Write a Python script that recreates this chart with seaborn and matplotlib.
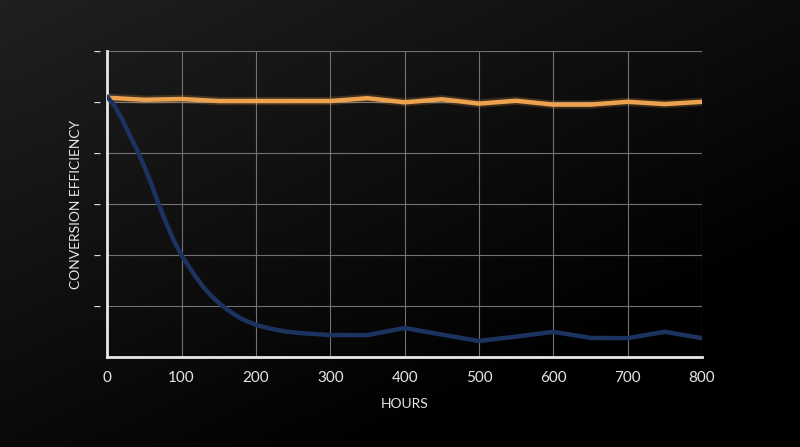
import numpy as np
import pandas as pd
import matplotlib
matplotlib.use("Agg")
import matplotlib.pyplot as plt
import matplotlib.patheffects as pe
from matplotlib.colors import LinearSegmentedColormap
import seaborn as sns

# =========================
# Data
# =========================
hours_stable = [0, 50, 100, 150, 200, 250, 300, 350, 400, 450, 500, 550, 600, 650, 700, 750, 800]
eff_stable = [1.018, 1.010, 1.013, 1.005, 1.005, 1.005, 1.005, 1.016, 1.000, 1.012,
              0.995, 1.006, 0.991, 0.991, 1.002, 0.993, 1.002]

hours_decay = [0, 10, 20, 30, 40, 50, 60, 70, 80, 90, 100, 110, 120, 130, 140, 150,
               160, 170, 180, 190, 200, 220, 240, 260, 280, 300, 350, 400, 450,
               500, 550, 600, 650, 700, 750, 800]
eff_decay = [1.022, 0.985, 0.935, 0.873, 0.815, 0.747, 0.675, 0.595, 0.522, 0.455,
             0.400, 0.355, 0.312, 0.273, 0.241, 0.214, 0.190, 0.170, 0.152, 0.139,
             0.127, 0.112, 0.101, 0.095, 0.091, 0.087, 0.087, 0.115, 0.089,
             0.064, 0.081, 0.100, 0.076, 0.075, 0.100, 0.075]

x_ticks = [0, 100, 200, 300, 400, 500, 600, 700, 800]
y_ticks = [0.2, 0.4, 0.6, 0.8, 1.0, 1.2]

ORANGE = "#EDA24F"
BLUE = "#1C335F"
TEXT = "#E6E6E6"

df = pd.concat([
    pd.DataFrame({"hours": hours_stable, "eff": eff_stable, "series": "stable"}),
    pd.DataFrame({"hours": hours_decay, "eff": eff_decay, "series": "decay"}),
])

sns.set_style("dark")
plt.rcParams["font.family"] = ["Lato", "DejaVu Sans"]

fig = plt.figure(figsize=(8, 4.47), dpi=100)

# background gradient: dark grey top-left to black bottom-right
bg = fig.add_axes([0, 0, 1, 1], zorder=-10)
gx, gy = np.meshgrid(np.linspace(0, 1, 400), np.linspace(0, 1, 224))
grad = 1 - np.clip(0.6 * gx + 0.7 * gy, 0, 1)
cmap = LinearSegmentedColormap.from_list("bg", ["#000000", "#202020"])
bg.imshow(grad, cmap=cmap, aspect="auto", extent=[0, 1, 0, 1], vmin=0, vmax=1)
bg.axis("off")

ax = fig.add_axes([0.134, 0.2007, 0.7435, 0.6845])
ax.set_facecolor("none")

sns.lineplot(data=df, x="hours", y="eff", hue="series",
             palette={"stable": ORANGE, "decay": BLUE},
             linewidth=3.2, legend=False, ax=ax, zorder=3)

# soft glow on the orange line
for line in ax.get_lines():
    if line.get_color() == ORANGE:
        line.set_path_effects([pe.Stroke(linewidth=6, foreground=ORANGE, alpha=0.2), pe.Normal()])

ax.set_xlim(0, 800)
ax.set_ylim(0, 1.2)
ax.set_xticks(x_ticks)
ax.set_yticks(y_ticks)
ax.set_yticklabels(["\u2013"] * len(y_ticks))
ax.tick_params(axis="x", length=0, pad=10, labelsize=11, labelcolor=TEXT)
ax.tick_params(axis="y", length=0, pad=4, labelsize=11, labelcolor=TEXT)

ax.grid(True, color="#727272", linewidth=0.8)
for side in ["top", "right"]:
    ax.spines[side].set_visible(False)
for side in ["left", "bottom"]:
    ax.spines[side].set_visible(True)
    ax.spines[side].set_color("#E8E8E8")
    ax.spines[side].set_linewidth(2)

ax.set_xlabel("HOURS", color=TEXT, fontsize=10, labelpad=9)
ax.set_ylabel("CONVERSION EFFICIENCY", color=TEXT, fontsize=10, labelpad=8)

fig.savefig("out.png", dpi=100)
